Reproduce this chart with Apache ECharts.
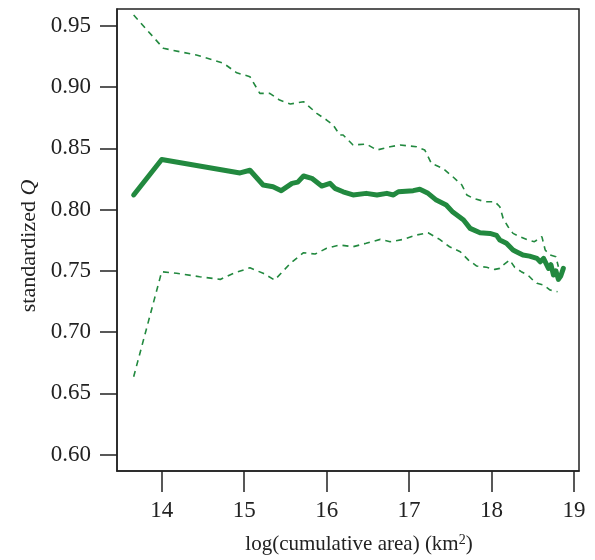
<!DOCTYPE html>
<html>
<head>
<meta charset="utf-8">
<script src="https://cdn.jsdelivr.net/npm/echarts@6/dist/echarts.min.js"></script>
<style>
  html, body { margin: 0; padding: 0; background: #fff; }
  #chart { width: 595px; height: 560px; }
</style>
</head>
<body>
<div id="chart"></div>
<script>
// values
var xTicks = [14, 15, 16, 17, 18, 19];
var yTicks = [0.60, 0.65, 0.70, 0.75, 0.80, 0.85, 0.90, 0.95];

var centerX = [13.66, 14.00, 14.95, 15.07, 15.23, 15.35, 15.45, 15.58, 15.65, 15.72, 15.82, 15.94, 16.04, 16.10, 16.20,
  16.32, 16.48, 16.61, 16.73, 16.81, 16.87, 17.05, 17.13, 17.23, 17.33, 17.45, 17.53, 17.66, 17.74, 17.86, 17.98,
  18.06, 18.10, 18.18, 18.26, 18.30, 18.38, 18.46, 18.55, 18.59, 18.63, 18.69, 18.72, 18.75, 18.78, 18.81, 18.84, 18.87];
var centerY = [0.812, 0.841, 0.830, 0.8322, 0.8201, 0.8187, 0.8155, 0.8215, 0.8225, 0.8275, 0.8256, 0.8193, 0.8215, 0.8174, 0.8146,
  0.812, 0.8133, 0.812, 0.8133, 0.812, 0.8146, 0.8155, 0.8166, 0.8133, 0.8078, 0.8038, 0.798, 0.7915, 0.7847, 0.7811, 0.7806,
  0.779, 0.7752, 0.7725, 0.767, 0.7656, 0.7629, 0.762, 0.7602, 0.7574, 0.7602, 0.752, 0.755, 0.7466, 0.750, 0.743, 0.746, 0.752];

var upperX = [13.66, 14.02, 14.22, 14.42, 14.63, 14.75, 14.91, 15.07, 15.19, 15.31, 15.43, 15.56, 15.72, 15.88, 16.00,
  16.08, 16.16, 16.20, 16.32, 16.48, 16.61, 16.77, 16.89, 17.09, 17.19, 17.27, 17.41, 17.53, 17.64, 17.70, 17.78,
  17.92, 18.04, 18.10, 18.14, 18.20, 18.26, 18.34, 18.44, 18.52, 18.61, 18.65, 18.71, 18.78, 18.81];
var upperY = [0.959, 0.9318, 0.929, 0.9263, 0.9222, 0.9195, 0.9118, 0.9086, 0.895, 0.895, 0.8895, 0.8863, 0.8882, 0.8787, 0.8732,
  0.8691, 0.861, 0.861, 0.8528, 0.8536, 0.8487, 0.8514, 0.8528, 0.8514, 0.8487, 0.8378, 0.8337, 0.8269, 0.8201, 0.812, 0.8092,
  0.8065, 0.8065, 0.8024, 0.7929, 0.786, 0.7806, 0.778, 0.7752, 0.7738, 0.778, 0.767, 0.7629, 0.7615, 0.7533];

var lowerX = [13.66, 14.00, 14.18, 14.46, 14.71, 14.87, 15.07, 15.23, 15.37, 15.56, 15.72, 15.86, 16.00, 16.16, 16.32,
  16.48, 16.65, 16.77, 16.93, 17.09, 17.23, 17.37, 17.49, 17.62, 17.72, 17.82, 17.94, 18.04, 18.10, 18.14, 18.22,
  18.28, 18.36, 18.44, 18.50, 18.55, 18.63, 18.71, 18.80];
var lowerY = [0.6635, 0.7493, 0.748, 0.7452, 0.743, 0.748, 0.7525, 0.748, 0.7425, 0.7561, 0.7648, 0.7637, 0.7684, 0.7711, 0.7697,
  0.7725, 0.7757, 0.7738, 0.7757, 0.7793, 0.7811, 0.7757, 0.7697, 0.7656, 0.7588, 0.7539, 0.7529, 0.7512, 0.752, 0.7547, 0.7588,
  0.7529, 0.7493, 0.7466, 0.7425, 0.7398, 0.7384, 0.7343, 0.733];

var green = '#22893f';
var ink = '#222';
var serif = '"Liberation Serif", "DejaVu Serif", serif';

function pairs(xs, ys) {
  return xs.map(function (x, i) { return [x, ys[i]]; });
}

var chart = echarts.init(document.getElementById('chart'), null, { renderer: 'canvas' });

chart.setOption({
  animation: false,
  grid: {
    left: 117, right: 16, top: 9, bottom: 89,
    show: true, borderColor: ink, borderWidth: 1.5, backgroundColor: 'transparent'
  },
  xAxis: {
    type: 'value',
    min: 13.458,
    max: 19.06,
    splitLine: { show: false },
    axisLine: { show: true, onZero: false, lineStyle: { color: ink, width: 1.5 } },
    axisTick: { show: true, customValues: xTicks, length: 21, lineStyle: { color: ink, width: 1.5 } },
    axisLabel: {
      customValues: xTicks, margin: 28, color: ink, fontFamily: serif, fontSize: 23,
      formatter: function (v) { return String(v); }
    },
    name: '{a|log(cumulative area) (km}{s|2}{a|)}',
    nameLocation: 'middle',
    nameGap: 62,
    nameTextStyle: {
      padding: [0, 0, 0, 22],
      rich: {
        a: { fontFamily: serif, fontSize: 21, color: ink },
        s: { fontFamily: serif, fontSize: 14, color: ink, verticalAlign: 'top', padding: [0, 0, 9, 0] }
      }
    }
  },
  yAxis: {
    type: 'value',
    min: 0.5865,
    max: 0.9639,
    splitLine: { show: false },
    axisLine: { show: true, onZero: false, lineStyle: { color: ink, width: 1.5 } },
    axisTick: { show: true, customValues: yTicks, length: 17, lineStyle: { color: ink, width: 1.5 } },
    axisLabel: {
      customValues: yTicks, margin: 26, color: ink, fontFamily: serif, fontSize: 23,
      formatter: function (v) { return v.toFixed(2); }
    },
    name: '{a|standardized }{q|Q}',
    nameLocation: 'middle',
    nameGap: 76,
    nameRotate: 90,
    nameTextStyle: {
      padding: [0, 12, 0, 0],
      rich: {
        a: { fontFamily: serif, fontSize: 22, color: ink },
        q: { fontFamily: serif, fontSize: 22, fontStyle: 'italic', color: ink }
      }
    }
  },
  series: [
    {
      type: 'line', data: pairs(upperX, upperY), showSymbol: false, silent: true,
      lineStyle: { color: green, width: 1.6, type: [6, 5] }
    },
    {
      type: 'line', data: pairs(lowerX, lowerY), showSymbol: false, silent: true,
      lineStyle: { color: green, width: 1.6, type: [6, 5] }
    },
    {
      type: 'line', data: pairs(centerX, centerY), showSymbol: false, silent: true,
      lineStyle: { color: green, width: 5, cap: 'round', join: 'round' }
    }
  ]
});
</script>
</body>
</html>
